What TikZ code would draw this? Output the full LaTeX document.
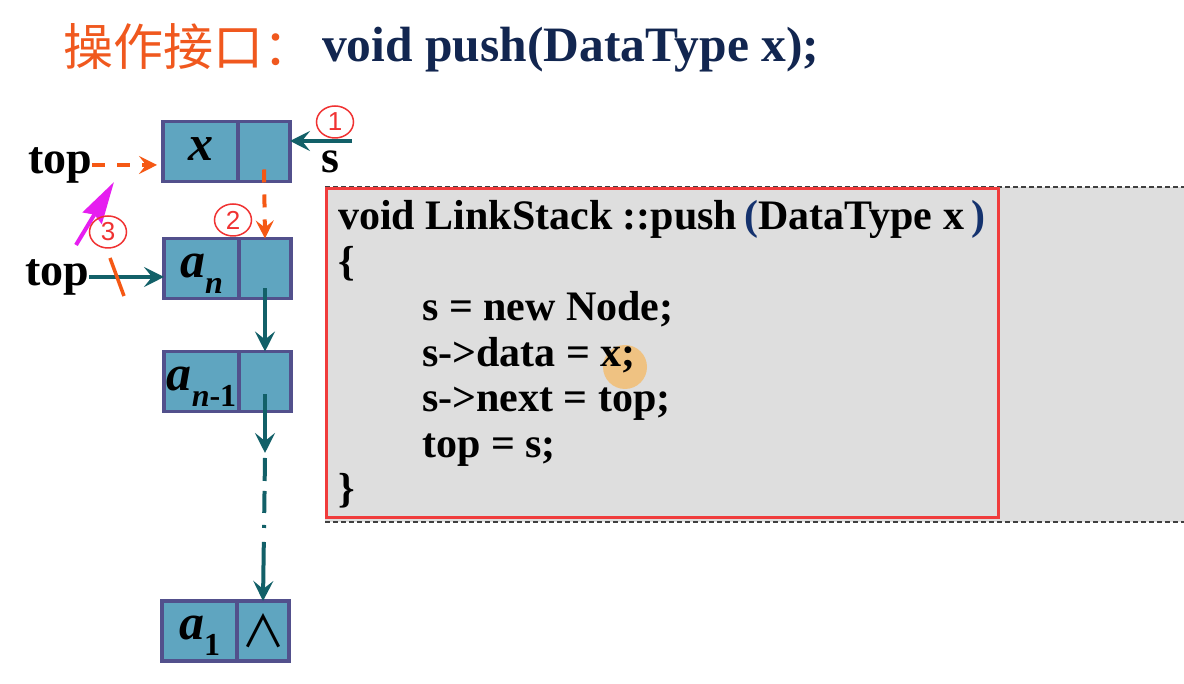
\documentclass[tikz,border=0pt]{standalone}
\usepackage{fontspec}
\setmainfont{Liberation Serif}
\newfontfamily\cjkfont{Noto Sans CJK SC}
\newfontfamily\numfont{Liberation Sans}
\usetikzlibrary{arrows.meta,shapes.geometric}

\definecolor{cjkorange}{RGB}{240,88,30}
\definecolor{titlenavy}{RGB}{18,38,80}
\definecolor{cellfill}{RGB}{95,165,192}
\definecolor{cellborder}{RGB}{82,80,140}
\definecolor{arrowteal}{RGB}{18,96,104}
\definecolor{dashorange}{RGB}{245,88,20}
\definecolor{numred}{RGB}{240,50,50}
\definecolor{pointmagenta}{RGB}{230,30,240}
\definecolor{codegray}{RGB}{222,222,222}
\definecolor{boxred}{RGB}{240,60,60}
\definecolor{parenblue}{RGB}{20,50,110}
\definecolor{hiliteorange}{RGB}{245,185,100}

\newcommand\subidx[1]{\raisebox{-0.32em}{\fontsize{32}{32}\selectfont #1}}

\begin{document}
\begin{tikzpicture}[x=1pt,y=1pt,
    datacell/.style={draw=cellborder, fill=cellfill, line width=3.5pt, minimum width=75pt,
        minimum height=60pt, inner sep=0pt, outer sep=0pt, text height=22pt, text depth=4pt,
        font=\fontsize{50}{50}\selectfont\bfseries\itshape},
    nextcell/.style={draw=cellborder, fill=cellfill, line width=3.5pt, minimum width=52pt,
        minimum height=60pt, inner sep=0pt, outer sep=0pt, anchor=west},
    toptext/.style={inner sep=0pt, font=\fontsize{46}{46}\selectfont\bfseries},
    codeline/.style={anchor=base west, inner sep=0pt, font=\fontsize{42}{42}\selectfont\bfseries},
    stepnum/.style={ellipse, draw=numred, line width=1.5pt, text=numred, minimum width=37pt,
        minimum height=32pt, inner sep=0pt, font=\fontsize{26}{26}\selectfont\numfont},
    tealarrow/.style={draw=arrowteal, line width=4pt, -{Stealth[length=20pt,width=20pt,inset=8pt]}},
    orangedash/.style={draw=dashorange, line width=4pt, dash pattern=on 13pt off 12pt,
        -{Stealth[length=18pt,width=18pt,inset=7pt]}}]

    \useasboundingbox (0,0) rectangle (1184,684);
    \fill [white] (0,0) rectangle (1184,684);

    % title
    \node [anchor=base west, inner sep=0pt, text=cjkorange, font=\fontsize{50}{50}\selectfont\cjkfont] (ttl) at (63,618) {操作接口：};
    \node [anchor=base west, inner sep=0pt, text=titlenavy, font=\fontsize{49.5}{49.5}\selectfont\bfseries] (ttlcode) at (322,622) {void push(DataType x);};

    % list nodes
    \node [datacell] (xdata) at (200.5,532.5) {x};
    \node [nextcell] (xnext) at (xdata.east) {};
    \node [datacell] (andata) at (201.5,415.5) {a\subidx{n}};
    \node [nextcell] (annext) at (andata.east) {};
    \node [datacell] (amdata) at (201.5,302.5) {a\subidx{n{\upshape -1}}};
    \node [nextcell] (amnext) at (amdata.east) {};
    \node [datacell] (aonedata) at (199.5,53) {a\subidx{\upshape 1}};
    \node [nextcell] (aonenext) at (aonedata.east) {\fontsize{44}{44}\selectfont\cjkfont ∧};

    % pointers
    \node [toptext] (topa) at (60,519) {top};
    \node [toptext] (topb) at (57,407) {top};
    \node [toptext] (stext) at (330,522) {s};
    \coordinate (sfrom) at (352,543);
    \draw [tealarrow] (sfrom) -- (sfrom -| xnext.east);
    \draw [orangedash, shorten >=6pt] (topa.east) -- (topa.east -| xdata.west);
    \draw [tealarrow] (topb.east) -- (topb.east -| andata.west);
    \draw [dashorange, line width=3.5pt] (110,426) -- (124,388);
    \coordinate (mstart) at (76,439);
    \coordinate (mend) at (114,502);
    \draw [pointmagenta, line width=4pt, -{Stealth[length=42pt,width=22pt,inset=4pt]}] (mstart) -- (mend);

    \draw [orangedash] ([yshift=-18pt]xnext.center) -- (annext.north);
    \draw [tealarrow] ([yshift=-20pt]annext.center) -- (amnext.north);
    \coordinate (gap) at (amnext.center |- 0,231);
    \draw [tealarrow] ([yshift=-13pt]amnext.center) -- (gap);
    \draw [tealarrow, dash pattern=on 23pt off 10pt on 22pt off 12pt on 3pt off 14pt on 80pt] ([yshift=-5pt]gap) -- (aonenext.north);

    \node [stepnum] (c1) at (335,562) {1};
    \node [stepnum] (c2) at (233,464) {2};
    \node [stepnum] (c3) at (108,452) {3};

    % code box
    \fill [codegray] (325,497) rectangle (1184,162);
    \draw [black!75, line width=1.5pt, dash pattern=on 5pt off 3pt] (325,497) -- (1184,497);
    \draw [black!75, line width=1.5pt, dash pattern=on 5pt off 3pt] (325,162) -- (1184,162);
    \draw [boxred, line width=3pt] (326,495) rectangle (998,166);
    \fill [hiliteorange, opacity=0.75] (625,317) circle (22);

    \node [codeline] (l1) at (338,454) {void LinkStack ::push\,\textcolor{parenblue}{(}DataType x\,\textcolor{parenblue}{)}};
    \node [codeline] (l2) at (338,408.5) {\{};
    \node [codeline] (l3) at (422,363) {s = new Node;};
    \node [codeline] (l4) at (422,317.5) {s->data = x;};
    \node [codeline] (l5) at (422,272) {s->next = top;};
    \node [codeline] (l6) at (422,226.5) {top = s;};
    \node [codeline] (l7) at (338,181) {\}};
\end{tikzpicture}
\end{document}
